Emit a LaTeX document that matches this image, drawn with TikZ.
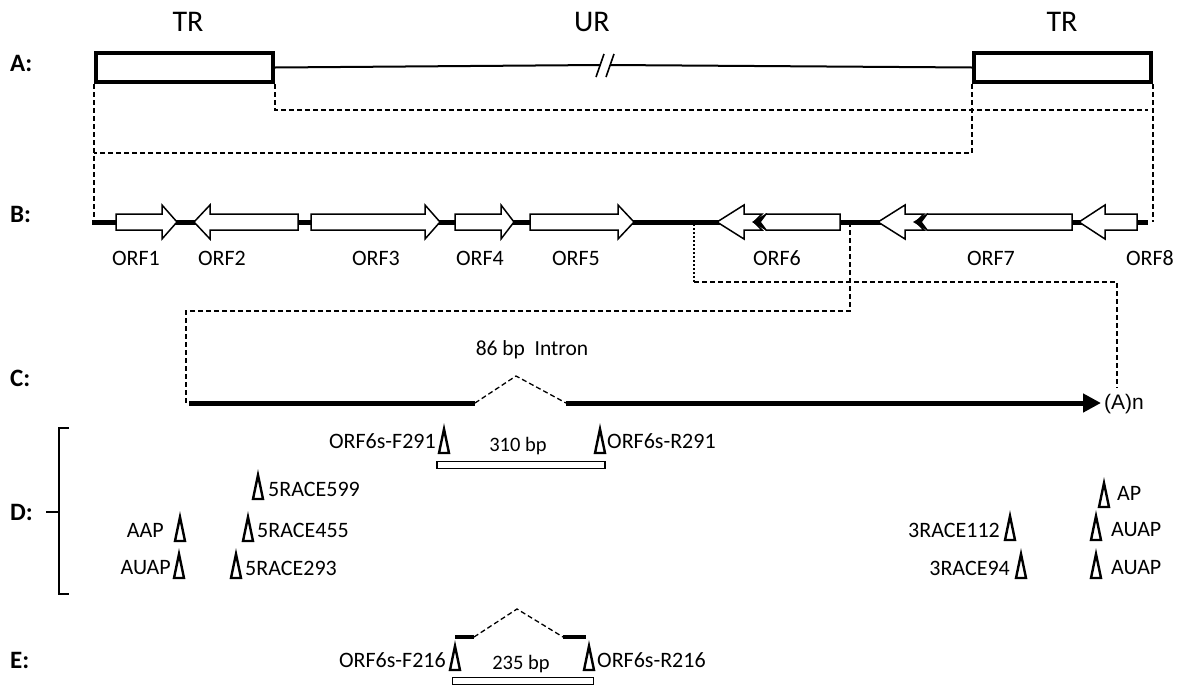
\documentclass[tikz,border=0pt]{standalone}
\usepackage{fontspec}
\setmainfont{Carlito}
\newfontfamily\arialfont{Liberation Sans}
\usetikzlibrary{arrows.meta}
\tikzset{
  lbl/.style={inner sep=0pt, font=\fontsize{22}{25}\selectfont},
  small/.style={inner sep=0pt, font=\fontsize{20.5}{23}\selectfont},
  ttl/.style={inner sep=0pt, font=\fontsize{30}{33}\selectfont},
  sec/.style={inner sep=0pt, anchor=west, font=\bfseries\fontsize{25}{28}\selectfont},
  trbox/.style={draw, line width=4pt, fill=white, minimum width=177pt, minimum height=29pt, anchor=north west, inner sep=0pt},
  dsh/.style={dash pattern=on 5pt off 3pt, line width=1.3pt},
  dtt/.style={dash pattern=on 2pt off 2pt, line width=1.3pt},
  orf/.style={draw, fill=white, line width=1.5pt, line join=miter},
  thick5/.style={line width=5pt},
  ampbox/.style={draw, fill=white, line width=1.5pt},
  primer/.pic={\draw[line width=2.4pt, line join=miter, fill=white] (0,-12) -- (5,12) -- (-5,12) -- cycle;}
}
\newcommand\orfarrow[3]{\draw[orf] (#1,214) -- (#2,214) -- (#2,205) -- (#3,222) -- (#2,239) -- (#2,230) -- (#1,230) -- cycle;}
\begin{document}
\begin{tikzpicture}[x=1pt,y=-1pt]
\useasboundingbox (0,0) rectangle (1178,686);
% ---------- titles
\node[ttl] (t1) at (188,22) {TR};
\node[ttl] (t2) at (592,22) {UR};
\node[ttl] (t3) at (1062,22) {TR};
% ---------- section labels
\node[sec] (la) at (10,63) {A:};
\node[sec] (lb) at (10,214) {B:};
\node[sec] (lc) at (10,378) {C:};
\node[sec] (ld) at (10,512) {D:};
\node[sec] (le) at (10,660) {E:};
% ---------- row A
\node[trbox] (tr1) at (94,51) {};
\node[trbox] (tr2) at (972,51) {};
\coordinate (s1) at (600,65);
\coordinate (s2) at (610,65);
\draw[line width=2pt] (tr1.east) -- (s1);
\draw[line width=2pt] (s2) -- (tr2.west);
\draw[line width=1.6pt] (596,77) -- (604,54);
\draw[line width=1.6pt] (606,77) -- (614,54);
% ---------- connectors A -> B
\coordinate (bL) at (92,222);
\coordinate (bR) at (1148,222);
\coordinate (m110) at (1148,110);
\coordinate (m153) at (94,153);
\draw[dsh] (tr1.south west) -- (tr1.south west |- bL);
\draw[dsh] (tr2.south east) -- (tr2.south east |- bR);
\draw[dsh] (tr1.south east) |- (m110);
\draw[dsh] (tr2.south west) |- (m153);
% ---------- row B
\draw[thick5] (bL) -- (bR);
\orfarrow{116}{162}{177}
\orfarrow{298}{210}{194}
\orfarrow{311}{425}{440}
\orfarrow{455}{501}{514}
\orfarrow{530}{618}{634}
% ORF6 (two exons)
\draw[orf] (717,222) -- (744,205) -- (744,214) -- (762,214) -- (754,222) -- (762,230) -- (744,230) -- (744,239) -- cycle;
\fill (752,222) -- (767,213) -- (767,231) -- cycle;
\draw[orf] (766,214) -- (840,214) -- (840,230) -- (766,230) -- (760,222) -- cycle;
% ORF7 (two exons)
\draw[orf] (878,222) -- (905,205) -- (905,214) -- (924,214) -- (916,222) -- (924,230) -- (905,230) -- (905,239) -- cycle;
\fill (913,222) -- (928,213) -- (928,231) -- cycle;
\draw[orf] (927,214) -- (1072,214) -- (1072,230) -- (927,230) -- (921,222) -- cycle;
% ORF8
\orfarrow{1137}{1105}{1079}
% ORF labels
\node[lbl] (o1) at (136,258) {ORF1};
\node[lbl] (o2) at (222,258) {ORF2};
\node[lbl] (o3) at (376,258) {ORF3};
\node[lbl] (o4) at (480,258) {ORF4};
\node[lbl] (o5) at (576,258) {ORF5};
\node[lbl] (o6) at (777,258) {ORF6};
\node[lbl] (o7) at (991,258) {ORF7};
\node[lbl] (o8) at (1150,258) {ORF8};
% ---------- row C
\coordinate (d6) at (694,224);
\coordinate (d6c) at (694,282);
\coordinate (d6b) at (850,222);
\coordinate (cL) at (186,403);
\coordinate (c1) at (189,403);
\coordinate (c2) at (475,403);
\coordinate (cpk) at (516,376);
\coordinate (c3) at (566,403);
\coordinate (c4) at (1101,403);
\node[inner sep=0pt, anchor=west, font=\arialfont\fontsize{21}{24}\selectfont] (an) at (1104,404) {(A)n};
\coordinate (anTop) at (1117,388);
\draw[dtt] (d6) -- (d6c);
\draw[dsh] (d6c) -| (anTop);
\draw[dsh] (d6b) |- (186,311) -- (cL);
\draw[thick5] (c1) -- (c2);
\draw[dsh] (c2) -- (cpk) -- (c3);
\draw[thick5, -{Triangle[length=18pt,width=18pt]}] (c3) -- (c4);
\node[inner sep=0pt, font=\fontsize{21.5}{24}\selectfont] (intron) at (532,350) {86 bp\ \ Intron};
% ---------- row D
\draw[line width=1.4pt] (69,428) -- (59,428) -- (59,594) -- (69,594);
\draw[line width=1.4pt] (59,512) -- (46,512);
\node[lbl, anchor=east] (f291) at (436,441) {ORF6s-F291};
\pic at (444,441) {primer};
\node[small] (b310) at (518,446) {310 bp};
\pic at (600,441) {primer};
\node[lbl, anchor=west] (r291) at (607,441) {ORF6s-R291};
\node[ampbox, minimum width=168pt, minimum height=7pt, inner sep=0pt] (amp1) at (521,465) {};
\pic at (258,487) {primer};
\node[lbl, anchor=west] (r599) at (268,489) {5RACE599};
\node[lbl, anchor=east] (aap) at (164,530) {AAP};
\pic at (180,529) {primer};
\pic at (248,529) {primer};
\node[lbl, anchor=west] (r455) at (257,530) {5RACE455};
\node[lbl, anchor=east] (auap1) at (171,568) {AUAP};
\pic at (179,566) {primer};
\pic at (236,566) {primer};
\node[lbl, anchor=west] (r293) at (245,568) {5RACE293};
\node[lbl, anchor=east] (r112) at (1000,530) {3RACE112};
\pic at (1010,528) {primer};
\node[lbl, anchor=east] (r94) at (1010,568) {3RACE94};
\pic at (1021,566) {primer};
\pic at (1104,495) {primer};
\node[lbl, anchor=west] (ap) at (1117,493) {AP};
\pic at (1096,528) {primer};
\node[lbl, anchor=west] (auap2) at (1111,530) {AUAP};
\pic at (1096,566) {primer};
\node[lbl, anchor=west] (auap3) at (1111,568) {AUAP};
% ---------- row E
\coordinate (e1) at (455,637);
\coordinate (e2) at (474,637);
\coordinate (epk) at (517,609);
\coordinate (e3) at (563,637);
\coordinate (e4) at (586,637);
\draw[line width=4pt] (e1) -- (e2);
\draw[dsh] (e2) -- (epk) -- (e3);
\draw[line width=4pt] (e3) -- (e4);
\node[lbl, anchor=east] (f216) at (446,660) {ORF6s-F216};
\pic at (455,658) {primer};
\node[small] (b235) at (521,664) {235 bp};
\pic at (589,658) {primer};
\node[lbl, anchor=west] (r216) at (597,660) {ORF6s-R216};
\node[ampbox, minimum width=141pt, minimum height=7pt, inner sep=0pt] (amp2) at (523,681) {};
\end{tikzpicture}
\end{document}
